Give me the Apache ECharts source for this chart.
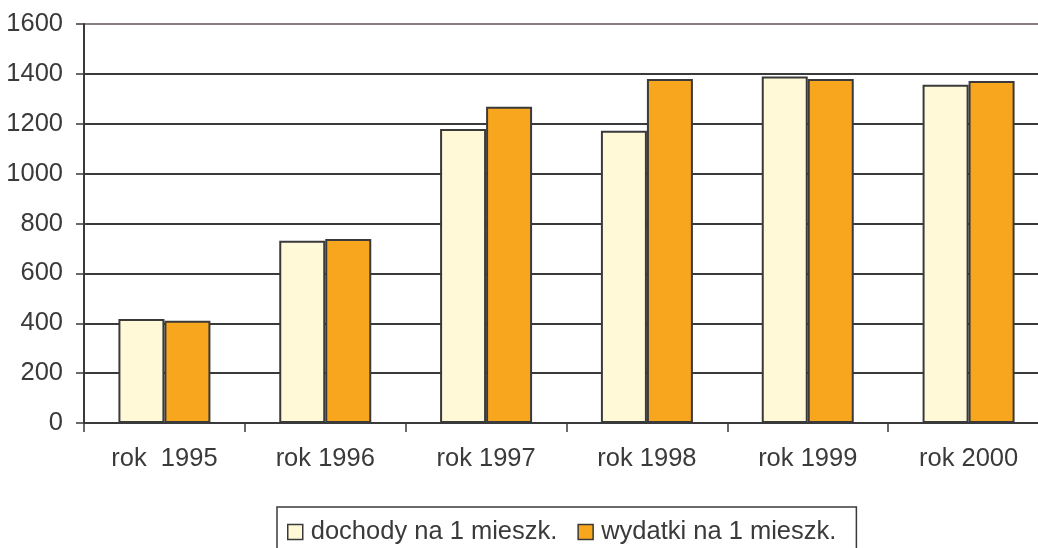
<!DOCTYPE html>
<html>
<head>
<meta charset="utf-8">
<script src="https://cdn.jsdelivr.net/npm/echarts@6/dist/echarts.min.js"></script>
<style>
html,body{margin:0;padding:0;background:#fff;overflow:hidden;width:1038px;height:548px;}
#c{width:1050px;height:548px;}
</style>
</head>
<body>
<div id="c"></div>
<script>
var categories = ['rok  1995', 'rok 1996', 'rok 1997', 'rok 1998', 'rok 1999', 'rok 2000'];
var dochody = [417, 731, 1179, 1172, 1389, 1356];
var wydatki = [410, 738, 1268, 1379, 1379, 1371];
var seriesNames = ['dochody na 1 mieszk.', 'wydatki na 1 mieszk.'];

var FONT = '"Liberation Sans", Arial, sans-serif';
var DARK = '#3a3a3a';
var chart = echarts.init(document.getElementById('c'), null, {renderer: 'canvas'});
chart.setOption({
  animation: false,
  backgroundColor: '#ffffff',
  grid: {left: 84, top: 24, width: 965, height: 399, containLabel: false},
  legend: {
    left: 277, top: 507,
    padding: [12, 20, 20, 10],
    borderColor: DARK, borderWidth: 1.5,
    itemWidth: 15, itemHeight: 15, itemGap: 20,
    icon: 'rect',
    itemStyle: {borderColor: DARK, borderWidth: 1.5},
    textStyle: {fontFamily: FONT, fontSize: 25.5, color: DARK, padding: [0, 0, 0, 3]},
    data: seriesNames
  },
  xAxis: {
    type: 'category',
    data: categories,
    axisLine: {lineStyle: {color: DARK, width: 2}},
    axisTick: {show: true, length: 9, lineStyle: {color: DARK, width: 1.5}},
    axisLabel: {fontFamily: FONT, fontSize: 25.5, color: DARK, margin: 23}
  },
  yAxis: {
    type: 'value',
    min: 0, max: 1600, interval: 200,
    axisLine: {show: true, lineStyle: {color: DARK, width: 2}},
    axisTick: {show: true, length: 8, lineStyle: {color: DARK, width: 1.5}},
    axisLabel: {fontFamily: FONT, fontSize: 25.5, color: DARK, margin: 21, formatter: function (v) { return String(v); }},
    splitLine: {show: true, lineStyle: {color: [DARK, DARK, DARK, DARK, DARK, DARK, DARK, DARK, '#8a7e7e'], width: 2}}
  },
  series: [
    {
      name: seriesNames[0], type: 'bar', data: dochody,
      barWidth: 46, barGap: '0%',
      itemStyle: {color: '#FFF9D8', borderColor: DARK, borderWidth: 2}
    },
    {
      name: seriesNames[1], type: 'bar', data: wydatki,
      barWidth: 46, barGap: '0%',
      itemStyle: {color: '#F8A61D', borderColor: DARK, borderWidth: 2}
    }
  ]
});
</script>
</body>
</html>
